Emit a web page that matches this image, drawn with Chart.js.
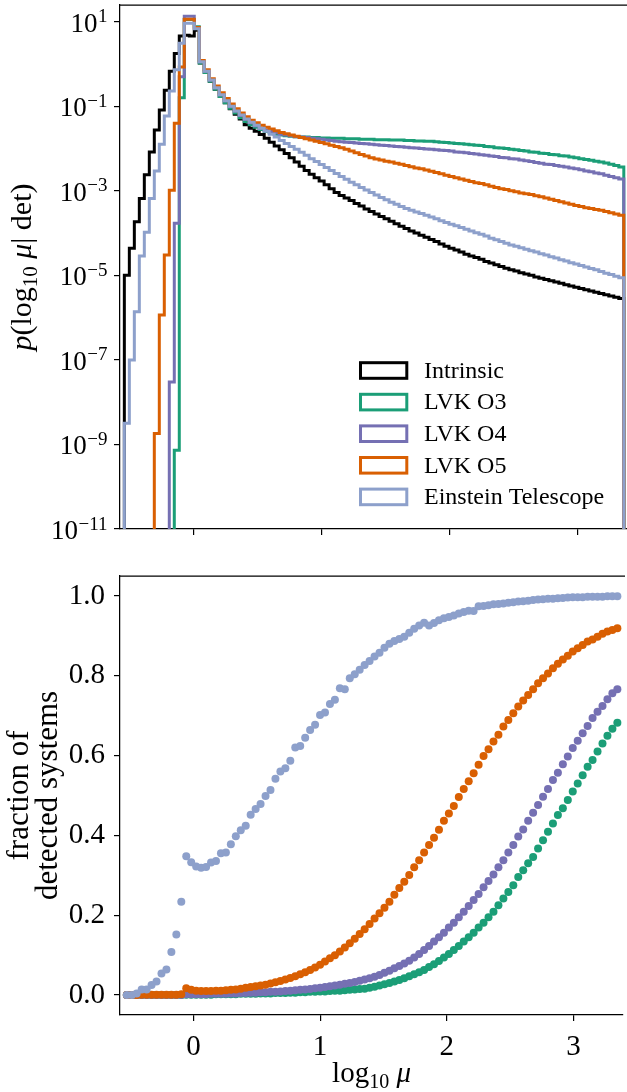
<!DOCTYPE html>
<html>
<head>
<meta charset="utf-8">
<title>Magnification distribution</title>
<script src="https://cdn.jsdelivr.net/npm/chart.js@4.4.1/dist/chart.umd.min.js"></script>
<style>
  html, body { margin: 0; padding: 0; background: #fff; overflow: hidden; }
  #wrap { position: relative; width: 627px; height: 1092px; }
  canvas { position: absolute; left: 0; }
  #topChart { top: 0; }
  #bottomChart { top: 560px; }
</style>
</head>
<body>
<div id="wrap">
  <canvas id="topChart" width="627" height="560"></canvas>
  <canvas id="bottomChart" width="627" height="532"></canvas>
</div>
<script>
// ========================================
// Data
// ========================================

// histogram bins in log10(mu): 100 bins
const binStart = -0.545;
const binWidth = 0.0391;

// top panel: log10 of p(log10 mu | det) per bin, null = empty bin
const intrinsicLogP = [
  -5.0, -4.36, -3.73, -3.18, -2.62, -2.08, -1.56, -1.09, -0.62, -0.17,
  0.25, 0.66, 0.68, 0.66, 0.8, 0.02, -0.2, -0.41, -0.6, -0.77,
  -0.92, -1.06, -1.19, -1.3, -1.44, -1.52, -1.59, -1.67, -1.76, -1.85,
  -1.94, -2.03, -2.12, -2.22, -2.32, -2.42, -2.52, -2.61, -2.69, -2.77,
  -2.86, -2.95, -3.04, -3.11, -3.17, -3.23, -3.3, -3.36, -3.43, -3.49,
  -3.55, -3.61, -3.66, -3.72, -3.78, -3.84, -3.89, -3.95, -4.0, -4.05,
  -4.1, -4.15, -4.2, -4.26, -4.31, -4.36, -4.4, -4.45, -4.5, -4.54,
  -4.58, -4.62, -4.67, -4.71, -4.75, -4.79, -4.83, -4.87, -4.9, -4.94,
  -4.97, -5.0, -5.04, -5.07, -5.1, -5.13, -5.16, -5.19, -5.22, -5.25,
  -5.28, -5.31, -5.34, -5.37, -5.4, -5.43, -5.46, -5.49, -5.52, -5.55
];
const o3LogP = [
  null, null, null, null, null, null, null, null, null, null,
  -9.14, -0.8, 1.05, 1.05, 0.88, 0.02, -0.2, -0.41, -0.6, -0.77,
  -0.92, -1.05, -1.16, -1.27, -1.36, -1.44, -1.5, -1.55, -1.6, -1.63,
  -1.66, -1.68, -1.7, -1.71, -1.72, -1.73, -1.73, -1.74, -1.74, -1.75,
  -1.75, -1.76, -1.76, -1.76, -1.77, -1.77, -1.77, -1.78, -1.78, -1.78,
  -1.79, -1.79, -1.79, -1.8, -1.8, -1.8, -1.81, -1.81, -1.82, -1.82,
  -1.83, -1.83, -1.84, -1.85, -1.86, -1.87, -1.88, -1.89, -1.9, -1.91,
  -1.92, -1.93, -1.95, -1.96, -1.98, -1.99, -2.0, -2.02, -2.03, -2.05,
  -2.06, -2.08, -2.09, -2.11, -2.12, -2.14, -2.15, -2.17, -2.18, -2.2,
  -2.22, -2.24, -2.26, -2.28, -2.3, -2.32, -2.34, -2.37, -2.4, -2.44
];
const o4LogP = [
  null, null, null, null, null, null, null, null, null, -7.52,
  -3.77, -0.3, 1.13, 1.13, 0.86, 0.05, -0.17, -0.38, -0.56, -0.73,
  -0.87, -1.0, -1.11, -1.22, -1.31, -1.39, -1.46, -1.52, -1.57, -1.6,
  -1.63, -1.66, -1.68, -1.7, -1.72, -1.73, -1.74, -1.76, -1.77, -1.78,
  -1.8, -1.81, -1.83, -1.84, -1.85, -1.86, -1.87, -1.88, -1.89, -1.9,
  -1.91, -1.92, -1.93, -1.94, -1.95, -1.96, -1.97, -1.98, -1.99, -2.0,
  -2.01, -2.02, -2.03, -2.04, -2.05, -2.06, -2.08, -2.09, -2.1, -2.12,
  -2.13, -2.15, -2.16, -2.18, -2.19, -2.21, -2.22, -2.24, -2.25, -2.27,
  -2.29, -2.31, -2.33, -2.35, -2.37, -2.38, -2.4, -2.42, -2.44, -2.46,
  -2.48, -2.5, -2.53, -2.55, -2.58, -2.6, -2.63, -2.66, -2.69, -2.72
];
const o5LogP = [
  null, null, null, null, null, null, -8.74, -5.94, -4.52, -2.99,
  -1.4, -0.07, 1.06, 1.06, 0.86, 0.08, -0.14, -0.35, -0.52, -0.68,
  -0.82, -0.95, -1.06, -1.16, -1.25, -1.33, -1.39, -1.45, -1.5, -1.54,
  -1.58, -1.62, -1.65, -1.68, -1.71, -1.74, -1.77, -1.8, -1.83, -1.86,
  -1.89, -1.92, -1.95, -1.98, -2.02, -2.06, -2.1, -2.14, -2.18, -2.22,
  -2.25, -2.27, -2.3, -2.32, -2.35, -2.37, -2.4, -2.43, -2.46, -2.48,
  -2.51, -2.54, -2.57, -2.6, -2.63, -2.66, -2.69, -2.72, -2.75, -2.78,
  -2.81, -2.83, -2.86, -2.89, -2.92, -2.95, -2.97, -3.0, -3.02, -3.05,
  -3.07, -3.09, -3.12, -3.14, -3.17, -3.2, -3.23, -3.26, -3.29, -3.32,
  -3.35, -3.37, -3.4, -3.42, -3.44, -3.46, -3.49, -3.52, -3.55, -3.58
];
const etLogP = [
  -8.5, -7.0, -5.86, -4.54, -3.98, -3.18, -2.53, -1.9, -1.23, -0.64,
  -0.14, 0.49, 0.96, 0.96, 0.83, 0.05, -0.17, -0.38, -0.56, -0.73,
  -0.87, -1.0, -1.11, -1.21, -1.3, -1.38, -1.45, -1.52, -1.59, -1.66,
  -1.73, -1.81, -1.88, -1.95, -2.02, -2.09, -2.16, -2.24, -2.31, -2.38,
  -2.45, -2.52, -2.59, -2.66, -2.73, -2.8, -2.86, -2.92, -2.98, -3.04,
  -3.1, -3.16, -3.21, -3.27, -3.32, -3.37, -3.42, -3.46, -3.5, -3.54,
  -3.58, -3.62, -3.66, -3.71, -3.75, -3.79, -3.83, -3.87, -3.91, -3.95,
  -3.99, -4.03, -4.07, -4.12, -4.16, -4.2, -4.24, -4.28, -4.31, -4.35,
  -4.38, -4.42, -4.45, -4.49, -4.52, -4.56, -4.59, -4.63, -4.66, -4.7,
  -4.73, -4.77, -4.8, -4.84, -4.87, -4.91, -4.95, -4.98, -5.02, -5.06
];

// bottom panel: fraction of detected systems per bin
const o3Frac = [
  0, 0, 0, 0, 0, 0, 0, 0, 0, 0,
  0, 0, 0.001, 0.001, 0.001, 0.001, 0.001, 0.001, 0.002, 0.002,
  0.002, 0.002, 0.002, 0.003, 0.003, 0.003, 0.003, 0.004, 0.004, 0.004,
  0.005, 0.005, 0.005, 0.006, 0.006, 0.007, 0.007, 0.008, 0.008, 0.009,
  0.009, 0.01, 0.011, 0.011, 0.012, 0.013, 0.014, 0.015, 0.016, 0.018,
  0.021, 0.024, 0.027, 0.03, 0.034, 0.038, 0.042, 0.047, 0.052, 0.057,
  0.063, 0.07, 0.077, 0.085, 0.094, 0.103, 0.113, 0.123, 0.134, 0.145,
  0.156, 0.169, 0.181, 0.195, 0.209, 0.225, 0.242, 0.258, 0.275, 0.296,
  0.313, 0.33, 0.346, 0.367, 0.388, 0.409, 0.43, 0.451, 0.468, 0.489,
  0.51, 0.53, 0.551, 0.572, 0.589, 0.61, 0.63, 0.65, 0.667, 0.682
];
const o4Frac = [
  0, 0, 0, 0, 0, 0, 0, 0, 0, 0,
  0, 0, 0.002, 0.002, 0.002, 0.002, 0.002, 0.003, 0.003, 0.003,
  0.003, 0.004, 0.004, 0.005, 0.005, 0.006, 0.006, 0.007, 0.007, 0.008,
  0.008, 0.009, 0.01, 0.011, 0.012, 0.013, 0.014, 0.015, 0.017, 0.018,
  0.02, 0.022, 0.024, 0.026, 0.028, 0.03, 0.033, 0.036, 0.039, 0.042,
  0.046, 0.05, 0.056, 0.061, 0.067, 0.073, 0.079, 0.086, 0.094, 0.103,
  0.113, 0.123, 0.134, 0.145, 0.156, 0.169, 0.181, 0.195, 0.209, 0.223,
  0.238, 0.253, 0.27, 0.286, 0.302, 0.32, 0.338, 0.357, 0.376, 0.397,
  0.415, 0.437, 0.457, 0.476, 0.497, 0.516, 0.539, 0.557, 0.578, 0.598,
  0.619, 0.637, 0.656, 0.674, 0.694, 0.71, 0.724, 0.741, 0.756, 0.766
];
const o5Frac = [
  0, 0, 0, 0.001, 0.001, 0.001, 0.001, 0.001, 0.001, 0.001,
  0.001, 0.002, 0.017, 0.013, 0.011, 0.01, 0.01, 0.01, 0.011, 0.011,
  0.012, 0.013, 0.014, 0.016, 0.018, 0.02, 0.022, 0.024, 0.026, 0.029,
  0.032, 0.035, 0.039, 0.043, 0.047, 0.052, 0.057, 0.063, 0.069, 0.076,
  0.084, 0.092, 0.1, 0.109, 0.119, 0.13, 0.141, 0.153, 0.165, 0.178,
  0.192, 0.205, 0.219, 0.234, 0.251, 0.268, 0.284, 0.301, 0.32, 0.338,
  0.357, 0.376, 0.394, 0.414, 0.437, 0.455, 0.474, 0.496, 0.516, 0.536,
  0.556, 0.577, 0.599, 0.616, 0.635, 0.652, 0.673, 0.689, 0.706, 0.723,
  0.738, 0.752, 0.766, 0.781, 0.794, 0.806, 0.819, 0.83, 0.841, 0.85,
  0.861, 0.869, 0.877, 0.886, 0.891, 0.898, 0.905, 0.911, 0.915, 0.919
];
const etFrac = [
  0.0, 0.0, 0.004, 0.014, 0.014, 0.025, 0.034, 0.054, 0.064, 0.108,
  0.152, 0.234, 0.348, 0.333, 0.322, 0.319, 0.321, 0.332, 0.336, 0.355,
  0.357, 0.378, 0.398, 0.413, 0.424, 0.452, 0.466, 0.479, 0.499, 0.514,
  0.542, 0.56, 0.568, 0.587, 0.62, 0.624, 0.645, 0.664, 0.677, 0.702,
  0.708, 0.729, 0.74, 0.769, 0.766, 0.794, 0.804, 0.815, 0.827, 0.837,
  0.848, 0.858, 0.87, 0.88, 0.887, 0.892, 0.898, 0.908, 0.918, 0.926,
  0.933, 0.926, 0.932, 0.939, 0.944, 0.947, 0.951, 0.956, 0.96, 0.963,
  0.962, 0.974, 0.975, 0.977, 0.979, 0.98, 0.981, 0.983, 0.984, 0.986,
  0.987, 0.988, 0.99, 0.991, 0.992, 0.993, 0.993, 0.994, 0.995, 0.996,
  0.997, 0.997, 0.997, 0.998, 0.998, 0.998, 0.998, 0.999, 0.999, 0.999
];

// series names and tick labels
const seriesNames = ['Intrinsic', 'LVK O3', 'LVK O4', 'LVK O5', 'Einstein Telescope'];
const topTickValues = [1e1, 1e-1, 1e-3, 1e-5, 1e-7, 1e-9, 1e-11];
const topTickExponents = ['1', '−1', '−3', '−5', '−7', '−9', '−11'];
const xTickValues = [0, 1, 2, 3];
const xTickLabels = ['0', '1', '2', '3'];
const fracTickValues = [0, 0.2, 0.4, 0.6, 0.8, 1.0];
const fracTickLabels = ['0.0', '0.2', '0.4', '0.6', '0.8', '1.0'];

// ========================================
// Styling
// ========================================
const colors = ['#000000', '#1b9e77', '#7570b3', '#d95f02', '#8da0cb'];
const serif = "'Liberation Serif', 'DejaVu Serif', serif";
const tickFont = { family: serif, size: 29 };
const xMin = -0.579;
const xMax = 3.39;

function binEdge(k) {
    return binStart + k * binWidth;
}

function binCenter(k) {
    return binStart + (k + 0.5) * binWidth;
}

// step outline, starting and ending on the baseline like histtype='step'
function stepPoints(logValues) {
    const floor = 1e-30;
    const pts = [{ x: binEdge(0), y: floor }];
    logValues.forEach((v, k) => {
        pts.push({ x: binEdge(k), y: v === null ? floor : Math.pow(10, v) });
    });
    pts.push({ x: binEdge(logValues.length), y: floor });
    return pts;
}

function scatterPoints(values) {
    return values.map((v, k) => ({ x: binCenter(k), y: v }));
}

// draw a label made of roman / italic / subscript pieces, centred on (x, y)
function drawRichText(ctx, parts, x, y, size, rotate) {
    const fontFor = (p) => (p.italic ? 'italic ' : '') + Math.round(p.sub ? size * 0.7 : size) + 'px ' + serif;
    let total = 0;
    parts.forEach(p => { ctx.font = fontFor(p); total += ctx.measureText(p.text).width; });
    ctx.save();
    ctx.translate(x, y);
    if (rotate) ctx.rotate(-Math.PI / 2);
    ctx.fillStyle = '#000';
    ctx.textBaseline = 'alphabetic';
    ctx.textAlign = 'left';
    let cx = -total / 2;
    parts.forEach(p => {
        ctx.font = fontFor(p);
        ctx.fillText(p.text, cx, p.sub ? size * 0.2 : 0);
        cx += ctx.measureText(p.text).width;
    });
    ctx.restore();
}

// box frame top line (right spine is cut off in the reference)
const framePlugin = {
    id: 'frameTop',
    afterDraw(chart) {
        const { ctx, chartArea } = chart;
        ctx.save();
        ctx.strokeStyle = '#000';
        ctx.lineWidth = 1.25;
        ctx.beginPath();
        ctx.moveTo(chartArea.left, chartArea.top);
        ctx.lineTo(chartArea.right + 2, chartArea.top);
        ctx.stroke();
        ctx.restore();
    }
};

// legend with outlined boxes, inside the lower right of the top panel
const boxLegendPlugin = {
    id: 'boxLegend',
    afterDraw(chart) {
        const ctx = chart.ctx;
        ctx.save();
        ctx.font = "24px " + serif;
        ctx.textBaseline = 'middle';
        ctx.textAlign = 'left';
        seriesNames.forEach((name, i) => {
            const yc = 370.5 + i * 31.6;
            ctx.fillStyle = '#fff';
            ctx.fillRect(360.5, yc - 7.8, 46.3, 15.6);
            ctx.strokeStyle = colors[i];
            ctx.lineWidth = 3;
            ctx.lineJoin = 'miter';
            ctx.strokeRect(360.5, yc - 7.8, 46.3, 15.6);
            ctx.fillStyle = '#000';
            ctx.fillText(name, 424, yc + 1);
        });
        ctx.restore();
    }
};

// power-of-ten tick labels of the log axis: "10" with a raised exponent
const powerTicksPlugin = {
    id: 'powerTicks',
    afterDraw(chart) {
        const ctx = chart.ctx;
        const yScale = chart.scales.y;
        const right = yScale.right - 6 - 7;
        ctx.save();
        ctx.fillStyle = '#000';
        ctx.textBaseline = 'alphabetic';
        ctx.textAlign = 'left';
        topTickValues.forEach((v, i) => {
            const py = yScale.getPixelForValue(v);
            ctx.font = '19px ' + serif;
            const wSup = ctx.measureText(topTickExponents[i]).width;
            ctx.font = '27px ' + serif;
            const wBase = ctx.measureText('10').width;
            const x0 = right - wSup - wBase;
            ctx.fillText('10', x0, py + 10);
            ctx.font = '19px ' + serif;
            ctx.fillText(topTickExponents[i], x0 + wBase + 0.5, py + 0.5);
        });
        ctx.restore();
    }
};

// y label of the top panel: p(log10 mu | det)
const topLabelPlugin = {
    id: 'topLabel',
    afterDraw(chart) {
        const a = chart.chartArea;
        drawRichText(chart.ctx, [
            { text: 'p', italic: true },
            { text: '(log' },
            { text: '10', sub: true },
            { text: ' ' },
            { text: 'μ', italic: true },
            { text: '| det)' }
        ], 31, (a.top + a.bottom) / 2, 30, true);
    }
};

// x label of the bottom panel: log10 mu
const bottomLabelPlugin = {
    id: 'bottomLabel',
    afterDraw(chart) {
        const a = chart.chartArea;
        drawRichText(chart.ctx, [
            { text: 'log' },
            { text: '10', sub: true },
            { text: ' ' },
            { text: 'μ', italic: true }
        ], (a.left + a.right) / 2, 522, 29, false);
    }
};

function axisGrid() {
    return {
        display: true,
        drawOnChartArea: false,
        drawTicks: true,
        tickLength: 6,
        color: '#000',
        lineWidth: 1.2
    };
}

function noPadding(scale) {
    scale.paddingTop = 0;
    scale.paddingBottom = 0;
    scale.paddingLeft = 0;
    scale.paddingRight = 0;
}

// ========================================
// Top panel: p(log10 mu | det)
// ========================================
const topLogP = [intrinsicLogP, o3LogP, o4LogP, o5LogP, etLogP];

new Chart(document.getElementById('topChart'), {
    type: 'line',
    data: {
        datasets: topLogP.map((vals, i) => ({
            label: seriesNames[i],
            data: stepPoints(vals),
            borderColor: colors[i],
            borderWidth: 3,
            stepped: true,
            pointRadius: 0,
            fill: false,
            tension: 0,
            borderJoinStyle: 'miter',
            borderCapStyle: 'butt',
            order: 4 - i
        }))
    },
    options: {
        responsive: false,
        animation: false,
        events: [],
        layout: { padding: { top: 5, left: 0, right: 0, bottom: 0 } },
        plugins: {
            legend: { display: false },
            tooltip: { enabled: false }
        },
        scales: {
            x: {
                type: 'linear',
                min: xMin,
                max: xMax,
                afterBuildTicks: (scale) => { scale.ticks = xTickValues.map(v => ({ value: v })); },
                afterFit: (scale) => { scale.height = 31; noPadding(scale); },
                ticks: { display: false },
                grid: axisGrid(),
                border: { display: true, color: '#000', width: 1.25 }
            },
            y: {
                type: 'logarithmic',
                min: 1e-11,
                max: 24.8,
                afterBuildTicks: (scale) => { scale.ticks = topTickValues.map(v => ({ value: v })); },
                afterFit: (scale) => { scale.width = 120; noPadding(scale); },
                ticks: { display: false, autoSkip: false },
                grid: axisGrid(),
                border: { display: true, color: '#000', width: 1.25 }
            }
        }
    },
    plugins: [framePlugin, boxLegendPlugin, powerTicksPlugin, topLabelPlugin]
});

// ========================================
// Bottom panel: fraction of detected systems
// ========================================
const bottomFrac = [o3Frac, o4Frac, o5Frac, etFrac];

new Chart(document.getElementById('bottomChart'), {
    type: 'scatter',
    data: {
        datasets: bottomFrac.map((vals, i) => ({
            label: seriesNames[i + 1],
            data: scatterPoints(vals),
            backgroundColor: colors[i + 1],
            borderWidth: 0,
            pointRadius: 4,
            order: 3 - i
        }))
    },
    options: {
        responsive: false,
        animation: false,
        events: [],
        layout: { padding: { top: 16, left: 0, right: 0, bottom: 0 } },
        plugins: {
            legend: { display: false },
            tooltip: { enabled: false }
        },
        scales: {
            x: {
                type: 'linear',
                min: xMin,
                max: xMax,
                afterBuildTicks: (scale) => { scale.ticks = xTickValues.map(v => ({ value: v })); },
                afterFit: (scale) => { scale.height = 77; noPadding(scale); },
                ticks: {
                    color: '#000',
                    font: tickFont,
                    padding: 9,
                    maxRotation: 0,
                    callback: (value) => xTickLabels[xTickValues.indexOf(value)]
                },
                grid: axisGrid(),
                border: { display: true, color: '#000', width: 1.25 }
            },
            y: {
                type: 'linear',
                min: -0.05,
                max: 1.05,
                afterBuildTicks: (scale) => { scale.ticks = fracTickValues.map(v => ({ value: v })); },
                afterFit: (scale) => { scale.width = 120; noPadding(scale); },
                ticks: {
                    autoSkip: false,
                    color: '#000',
                    font: tickFont,
                    padding: 9,
                    callback: (value) => {
                        const idx = fracTickValues.findIndex(t => Math.abs(t - value) < 1e-9);
                        return idx >= 0 ? fracTickLabels[idx] : '';
                    }
                },
                grid: axisGrid(),
                border: { display: true, color: '#000', width: 1.25 },
                title: {
                    display: true,
                    text: ['fraction of', 'detected systems'],
                    color: '#000',
                    font: { family: serif, size: 31, lineHeight: 0.92 },
                    padding: { top: 6, bottom: 0 }
                }
            }
        }
    },
    plugins: [framePlugin, bottomLabelPlugin]
});
</script>
</body>
</html>
